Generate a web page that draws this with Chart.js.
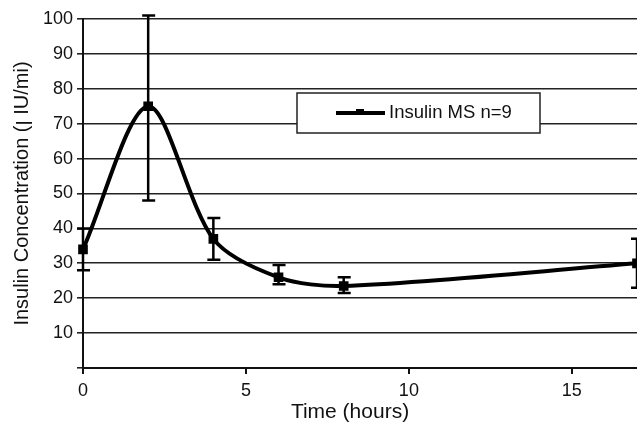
<!DOCTYPE html>
<html>
<head>
<meta charset="utf-8">
<script src="https://cdn.jsdelivr.net/npm/chart.js@4/dist/chart.umd.min.js"></script>
<style>
html,body{margin:0;padding:0;background:#fff;}
#wrap{width:637px;height:423px;position:relative;}
</style>
</head>
<body>
<div id="wrap"><canvas id="c" width="637" height="423"></canvas></div>
<script>
const timeHours = [0, 2, 4, 6, 8, 17];
const insulinMean = [34, 75, 37, 26, 23.5, 30];
const errLow = [28, 48, 31, 24, 21.5, 23];
const errHigh = [40, 101, 43, 29.5, 26, 37];
const yTickValues = [0, 10, 20, 30, 40, 50, 60, 70, 80, 90, 100];
const xTickValues = [0, 5, 10, 15];
const seriesName = 'Insulin MS n=9';
const xTitle = 'Time (hours)';
const yTitle = 'Insulin Concentration (ן IU/mi)';

const FONT = 'Liberation Sans, Arial, sans-serif';

const errorBars = {
  id: 'errorBars',
  afterDatasetsDraw(chart) {
    const {ctx, scales: {x, y}} = chart;
    ctx.save();
    ctx.strokeStyle = '#000';
    ctx.lineWidth = 2.5;
    timeHours.forEach((t, i) => {
      const px = x.getPixelForValue(t);
      const top = y.getPixelForValue(errHigh[i]);
      const bot = y.getPixelForValue(errLow[i]);
      ctx.beginPath();
      ctx.moveTo(px, top); ctx.lineTo(px, bot);
      ctx.moveTo(px - 6, top); ctx.lineTo(px + 7, top);
      ctx.moveTo(px - 6, bot); ctx.lineTo(px + 7, bot);
      ctx.stroke();
    });
    ctx.restore();
  }
};

const boxLegend = {
  id: 'boxLegend',
  afterDraw(chart) {
    const {ctx} = chart;
    ctx.save();
    const bx = 297, by = 93, bw = 243, bh = 40;
    ctx.fillStyle = '#fff';
    ctx.fillRect(bx, by, bw, bh);
    ctx.strokeStyle = '#222';
    ctx.lineWidth = 1.5;
    ctx.strokeRect(bx, by, bw, bh);
    ctx.strokeStyle = '#000';
    ctx.lineWidth = 4;
    ctx.beginPath();
    ctx.moveTo(336, 113); ctx.lineTo(385, 113);
    ctx.stroke();
    ctx.fillStyle = '#000';
    ctx.fillRect(356, 109, 8, 6);
    ctx.font = '18.5px ' + FONT;
    ctx.textBaseline = 'middle';
    ctx.fillStyle = '#111';
    ctx.fillText(seriesName, 389, 113);
    // x axis title
    ctx.font = '21px ' + FONT;
    ctx.textAlign = 'center';
    ctx.fillText(xTitle, 350, 412);
    ctx.restore();
  }
};

new Chart(document.getElementById('c'), {
  type: 'scatter',
  data: {
    datasets: [{
      label: seriesName,
      data: timeHours.map((t, i) => ({x: t, y: insulinMean[i]})),
      showLine: true,
      borderColor: '#000',
      backgroundColor: '#000',
      borderWidth: 4,
      tension: 0.3,
      pointStyle: 'rect',
      pointRadius: 4,
      pointHoverRadius: 4,
      clip: false
    }]
  },
  options: {
    responsive: false,
    animation: false,
    events: [],
    layout: {autoPadding: false, padding: {top: 19, right: 0, left: 0, bottom: 0}},
    plugins: {
      legend: {display: false},
      tooltip: {enabled: false}
    },
    scales: {
      x: {
        type: 'linear',
        min: 0, max: 17,
        afterBuildTicks(s) { s.ticks = xTickValues.map(v => ({value: v})); },
        afterFit(s) { s.height = 55; },
        ticks: {color: '#111', font: {family: FONT, size: 18}, padding: 6, maxRotation: 0},
        grid: {drawOnChartArea: false, drawTicks: true, tickLength: 6, color: '#111', lineWidth: 2},
        border: {display: true, color: '#111', width: 2},
        title: {display: false, text: xTitle}
      },
      y: {
        min: 0, max: 100,
        afterBuildTicks(s) { s.ticks = yTickValues.map(v => ({value: v})); },
        afterFit(s) { s.width = 83; },
        ticks: {color: '#111', font: {family: FONT, size: 18}, padding: 4,
          callback: v => v === 0 ? '' : String(v)},
        grid: {color: '#222', lineWidth: 1.6, drawTicks: true, tickLength: 6},
        border: {display: true, color: '#111', width: 2},
        title: {display: true, text: yTitle, color: '#111', font: {family: FONT, size: 20}, padding: {top: 10, bottom: 2}}
      }
    }
  },
  plugins: [errorBars, boxLegend]
});
</script>
</body>
</html>
